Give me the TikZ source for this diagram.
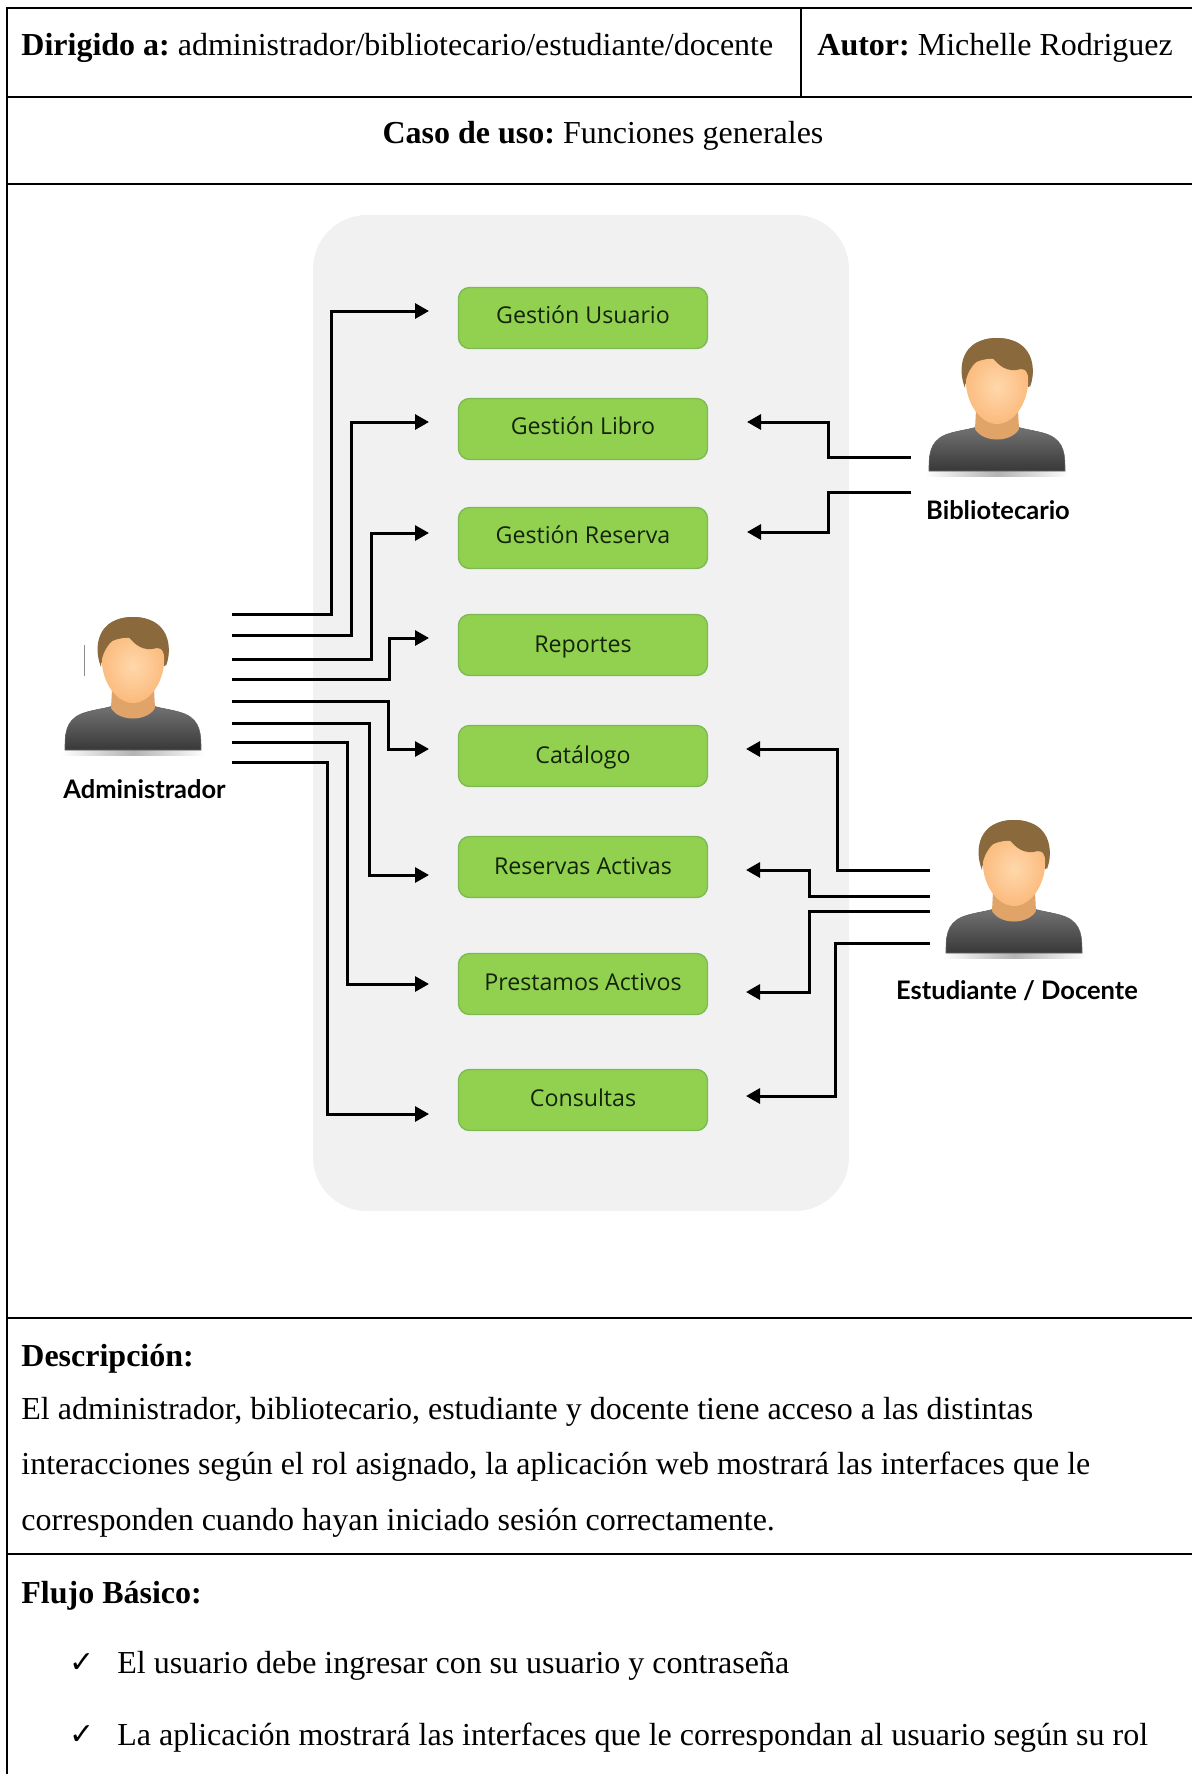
\documentclass[tikz,border=0pt]{standalone}
\usepackage{fontspec}
\setmainfont{Liberation Serif}
\newfontfamily\boxfont{Open Sans}
\newfontfamily\actorfont{Lato}[BoldFont={Lato Bold}]
\newfontfamily\checkfont{DejaVu Sans}
\usetikzlibrary{arrows.meta}
\definecolor{panelgray}{HTML}{F1F1F1}
\definecolor{boxgreen}{HTML}{92D050}
\definecolor{boxedge}{HTML}{7DBB52}
\definecolor{boxtext}{HTML}{14240A}
\definecolor{hairbrown}{HTML}{8A6A3C}
\definecolor{skinlight}{HTML}{FFD8AC}
\definecolor{skinmid}{HTML}{FBBA7C}
\definecolor{neckcol}{HTML}{E0A368}
\frenchspacing
\newcommand{\boxtxt}[2]{\raisebox{-#1pt}[0pt][0pt]{#2}}
\newcommand{\persona}[2]{%
  \begin{scope}[shift={(#1,#2)}]
    % shadow under the shirt
    \fill[left color=white,right color=white,middle color=black!30] (-72,133) rectangle (72,138);
    % shirt
    \path[top color=black!55,bottom color=black!78,draw=black!62,line width=.3pt]
      (-68,133) .. controls (-68,118) and (-68,104) .. (-52,97)
      .. controls (-42,93) and (-30,92) .. (-20,89) -- (20,89)
      .. controls (30,92) and (42,93) .. (52,97)
      .. controls (68,104) and (68,118) .. (68,133) -- cycle;
    % neck
    \fill[neckcol] (-21,72) -- (-22,91) .. controls (-14,105) and (14,105) .. (22,91) -- (21,72) -- cycle;
    % hair back
    \fill[hairbrown] (-30,48) .. controls (-40,36) and (-36,0) .. (0,0)
      .. controls (36,0) and (40,36) .. (32,49) -- cycle;
    % face
    \shade[inner color=skinlight,outer color=skinmid]
      (-31,38) .. controls (-33,62) and (-18,86) .. (0,86)
      .. controls (18,86) and (33,62) .. (31,38)
      .. controls (30,18) and (-30,12) .. (-31,38) -- cycle;
    % hair front
    \fill[hairbrown] (-32,50) .. controls (-40,30) and (-36,0) .. (0,0)
      .. controls (36,0) and (40,30) .. (33,49)
      .. controls (32,38) and (30,30) .. (24,31)
      .. controls (10,35) and (2,28) .. (-6,18)
      .. controls (-12,14) and (-32,28) .. (-32,50) -- cycle;
  \end{scope}}
\tikzset{
  gridline/.style={draw=black,line width=1.05pt},
  bodytext/.style={anchor=base west,inner sep=0pt,font=\fontsize{16}{18}\selectfont},
  usecase/.style={rectangle,rounded corners=5.5pt,draw=boxedge,line width=.7pt,fill=boxgreen,
    minimum width=124.5pt,minimum height=30.5pt,inner sep=0pt,text=boxtext,
    font=\boxfont\fontsize{11.6}{13}\selectfont},
  actorlabel/.style={inner sep=0pt,font=\actorfont\bfseries\fontsize{12.75}{14}\selectfont},
  link/.style={draw=black,line width=1.5pt,-{Triangle[length=7pt,width=7.5pt]}},
}
\begin{document}
\begin{tikzpicture}[x=0.5pt,y=-0.5pt]
\useasboundingbox (0,0) rectangle (1192,1774);
% table
\draw[gridline] (1192,8) -- (7,8) -- (7,1774);
\draw[gridline] (7,97) -- (1192,97);
\draw[gridline] (7,184) -- (1192,184);
\draw[gridline] (7,1318) -- (1192,1318);
\draw[gridline] (7,1554) -- (1192,1554);
\draw[draw=black,line width=.7pt] (801,8) -- (801,97);
% table text
\node[bodytext] (dirigido) at (21,55) {\textbf{Dirigido a:} administrador/bibliotecario/estudiante/docente};
\node[bodytext] (autor) at (817,55) {\textbf{Autor:} Michelle Rodriguez};
\node[bodytext,anchor=base] (caso) at (603,143) {\textbf{Caso de uso:} Funciones generales};
\node[bodytext] (desc) at (21,1366) {\textbf{Descripción:}};
\node[bodytext] (d1) at (21,1419) {El administrador, bibliotecario, estudiante y docente tiene acceso a las distintas};
\node[bodytext] (d2) at (21,1474) {interacciones según el rol asignado, la aplicación web mostrará las interfaces que le};
\node[bodytext] (d3) at (21,1530) {corresponden cuando hayan iniciado sesión correctamente.};
\node[bodytext] (flujo) at (21,1603) {\textbf{Flujo Básico:}};
\node[bodytext] (c1) at (69,1672) {\checkfont\fontsize{15}{17}\selectfont ✓};
\node[bodytext] (f1) at (117,1673) {El usuario debe ingresar con su usuario y contraseña};
\node[bodytext] (c2) at (69,1744) {\checkfont\fontsize{15}{17}\selectfont ✓};
\node[bodytext] (f2) at (117,1745) {La aplicación mostrará las interfaces que le correspondan al usuario según su rol};
% panel
\fill[panelgray,rounded corners=27pt] (313,215) rectangle (849,1211);
% use cases
\node[usecase] (u1) at (583,318) {\boxtxt{2.75}{Gestión Usuario}};
\node[usecase] (u2) at (583,429) {\boxtxt{2.75}{Gestión Libro}};
\node[usecase] (u3) at (583,538) {\boxtxt{2.75}{Gestión Reserva}};
\node[usecase] (u4) at (583,645) {\boxtxt{3.5}{Reportes}};
\node[usecase] (u5) at (583,756) {\boxtxt{3.5}{Catálogo}};
\node[usecase] (u6) at (583,867) {\boxtxt{3.75}{Reservas Activas}};
\node[usecase] (u7) at (583,984) {\boxtxt{3}{Prestamos Activos}};
\node[usecase] (u8) at (583,1100) {\boxtxt{3}{Consultas}};
% actors
\persona{133}{617}
\persona{997}{338}
\persona{1014}{820}
\fill[black!45] (83.5,645) rectangle (85,676);
\node[actorlabel] (admin) at (144.5,789) {Administrador};
\node[actorlabel] (biblio) at (998,510) {Bibliotecario};
\node[actorlabel] (estud) at (1017,991) {Estudiante / Docente};
% free ends at the actors
\coordinate (a1) at (232,614);
\coordinate (a2) at (232,635);
\coordinate (a3) at (232,659);
\coordinate (a4) at (232,679);
\coordinate (a5) at (232,701);
\coordinate (a6) at (232,723);
\coordinate (a7) at (232,742);
\coordinate (a8) at (232,762);
\coordinate (b1) at (911,457);
\coordinate (b2) at (911,492);
\coordinate (e1) at (930,870);
\coordinate (e2) at (930,896);
\coordinate (e3) at (930,911);
\coordinate (e4) at (930,943);
% free ends beside the use cases
\coordinate (t1) at (429,311);
\coordinate (t2) at (429,422);
\coordinate (t3) at (429,533);
\coordinate (t4) at (429,638);
\coordinate (t5) at (429,749);
\coordinate (t6) at (429,875);
\coordinate (t7) at (429,984);
\coordinate (t8) at (429,1114);
\coordinate (r2) at (747,422);
\coordinate (r3) at (747,532);
\coordinate (r5) at (746,749);
\coordinate (r6) at (746,870);
\coordinate (r7) at (746,992);
\coordinate (r8) at (746,1096);
% administrator links
\draw[link] (a1) -- (331,614) |- (t1);
\draw[link] (a2) -- (351,635) |- (t2);
\draw[link] (a3) -- (371,659) |- (t3);
\draw[link] (a4) -- (389,679) |- (t4);
\draw[link] (a5) -- (388,701) |- (t5);
\draw[link] (a6) -- (369,723) |- (t6);
\draw[link] (a7) -- (347,742) |- (t7);
\draw[link] (a8) -- (327,762) |- (t8);
% librarian links
\draw[link] (b1) -- (828,457) |- (r2);
\draw[link] (b2) -- (828,492) |- (r3);
% student links
\draw[link] (e1) -- (837,870) |- (r5);
\draw[link] (e2) -- (809,896) |- (r6);
\draw[link] (e3) -- (809,911) |- (r7);
\draw[link] (e4) -- (835,943) |- (r8);
\end{tikzpicture}
\end{document}
